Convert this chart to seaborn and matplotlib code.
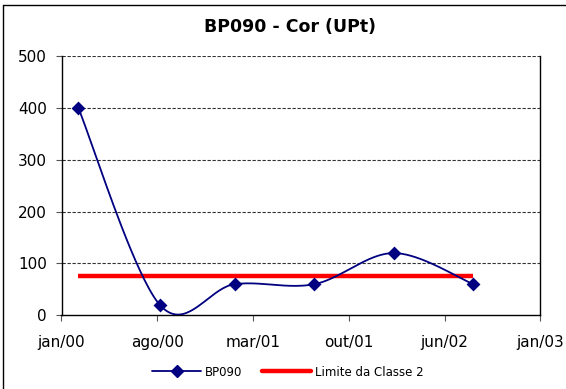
import numpy as np
import pandas as pd
import matplotlib
matplotlib.use("Agg")
import matplotlib.pyplot as plt
import matplotlib.dates as mdates
from matplotlib.lines import Line2D
import seaborn as sns

# Monitoring samples for station BP090 (colour, mg Pt/L)
dates = ["2000-02-09", "2000-08-16", "2001-02-05", "2001-08-09", "2002-02-09", "2002-08-12"]
cor = [400, 20, 60, 60, 120, 60]
limite_classe2 = 75

tick_labels = ["jan/00", "ago/00", "mar/01", "out/01", "jun/02", "jan/03"]
tick_step_days = 222
y_ticks = [0, 100, 200, 300, 400, 500]

df = pd.DataFrame({"data": pd.to_datetime(dates), "cor": cor})
df["limite"] = limite_classe2
df["num"] = mdates.date2num(df["data"])


def smooth_curve(x, y, n=40):
    """Cubic Bezier smoothing through every point (spreadsheet-style smoothed line)."""
    x = np.asarray(x, float)
    y = np.asarray(y, float)
    px = np.concatenate([[x[0]], x, [x[-1]]])
    py = np.concatenate([[y[0]], y, [y[-1]]])
    xs, ys = [], []
    t = np.linspace(0, 1, n)
    for i in range(len(x) - 1):
        p0 = np.array([px[i + 1], py[i + 1]])
        p3 = np.array([px[i + 2], py[i + 2]])
        c1 = p0 + (p3 - np.array([px[i], py[i]])) / 6.0
        c2 = p3 - (np.array([px[i + 3], py[i + 3]]) - p0) / 6.0
        b = ((1 - t) ** 3)[:, None] * p0 + (3 * (1 - t) ** 2 * t)[:, None] * c1 \
            + (3 * (1 - t) * t ** 2)[:, None] * c2 + (t ** 3)[:, None] * p3
        xs.append(b[:, 0])
        ys.append(b[:, 1])
    return np.concatenate(xs), np.concatenate(ys)


sns.set_style("white")
plt.rcParams["font.family"] = ["DejaVu Sans"]
plt.rcParams["text.color"] = "black"

W, H = 566, 389
fig = plt.figure(figsize=(W / 100, H / 100), dpi=100)
fig.patch.set_facecolor("white")

left, right, top, bottom = 61.5, 540.4, 56.0, 315.3
ax = fig.add_axes([left / W, 1 - bottom / H, (right - left) / W, (bottom - top) / H])

navy = "#000080"
sx, sy = smooth_curve(df["num"], df["cor"])
smooth = pd.DataFrame({"x": sx, "y": sy})

# Class 2 limit
sns.lineplot(data=df, x="num", y="limite", ax=ax, color="#ff0000", lw=3.2,
             solid_capstyle="butt", zorder=3)
# smoothed series line + markers
sns.lineplot(data=smooth, x="x", y="y", ax=ax, color=navy, lw=1.3, sort=False,
             estimator=None, zorder=4)
sns.scatterplot(data=df, x="num", y="cor", ax=ax, marker="D", s=50, color=navy,
                edgecolor=navy, linewidth=0, zorder=5)

start = mdates.date2num(pd.Timestamp("2000-01-01"))
xticks = [start + i * tick_step_days for i in range(len(tick_labels))]
ax.set_xlim(xticks[0], xticks[-1])
ax.set_ylim(0, 500)
ax.set_xticks(xticks)
ax.set_xticklabels(tick_labels)
ax.set_yticks(y_ticks)
ax.set_yticklabels([str(v) for v in y_ticks])
ax.set_xlabel("")
ax.set_ylabel("")

for v in y_ticks[1:]:
    ax.axhline(v, color="#333333", lw=0.8, ls=(0, (3, 1.5)), zorder=1)

for s in ["left", "bottom", "right"]:
    ax.spines[s].set_visible(True)
    ax.spines[s].set_color("black")
    ax.spines[s].set_linewidth(1.0)
ax.spines["top"].set_visible(False)

ax.tick_params(axis="both", which="major", direction="out", length=4.5, width=0.8,
               color="#555555", labelsize=11, labelcolor="black", bottom=True, left=True)
ax.tick_params(axis="x", pad=10)
ax.tick_params(axis="y", pad=6)

fig.text(289.5 / W, 1 - 27 / H, "BP090 - Cor (UPt)", ha="center", va="center",
         fontsize=12.5, fontweight="bold", color="black")

handles = [
    Line2D([0], [0], color=navy, lw=1.3, marker="D", markersize=6.5, markerfacecolor=navy,
           markeredgecolor=navy),
    Line2D([0], [0], color="#ff0000", lw=3.2),
]
leg = fig.legend(handles, ["BP090", "Limite da Classe 2"], loc="center",
                 bbox_to_anchor=(288 / W, 1 - 372 / H), ncol=2, frameon=False, fontsize=8.5,
                 handlelength=4.1, handletextpad=0.35, columnspacing=1.7)
for txt in leg.get_texts():
    txt.set_color("black")

# chart-area frame
fig.add_artist(Line2D([2.5 / W, 2.5 / W], [0, 1 - 5 / H], transform=fig.transFigure,
                      color="black", lw=1.0))
fig.add_artist(Line2D([2.5 / W, 1], [1 - 5 / H, 1 - 5 / H], transform=fig.transFigure,
                      color="black", lw=1.0))

fig.savefig("out.png", dpi=100)
